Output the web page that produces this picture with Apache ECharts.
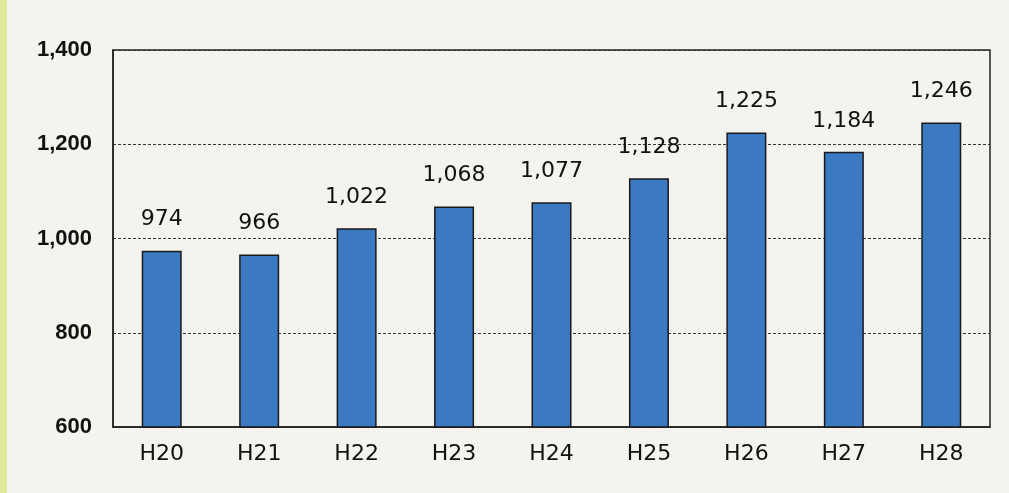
<!DOCTYPE html>
<html>
<head>
<meta charset="utf-8">
<script src="https://cdn.jsdelivr.net/npm/echarts@6/dist/echarts.min.js"></script>
<style>
  html, body { margin: 0; padding: 0; background: #f4f3ee; }
  #chart { width: 1009px; height: 493px; }
</style>
</head>
<body>
<div id="chart"></div>
<script>
var categories = ['H20', 'H21', 'H22', 'H23', 'H24', 'H25', 'H26', 'H27', 'H28'];
var values = [974, 966, 1022, 1068, 1077, 1128, 1225, 1184, 1246];

var chart = echarts.init(document.getElementById('chart'));
chart.setOption({
    backgroundColor: '#f4f3ee',
    animation: false,
    graphic: [{
        // yellow strip at the left edge of the scan
        type: 'rect',
        left: 0, top: 0,
        shape: { width: 7, height: 493 },
        style: { fill: '#dfe79a' }
    }],
    grid: { left: 113, right: 19, top: 50, bottom: 66, show: true, borderColor: '#222', borderWidth: 1.5, backgroundColor: 'transparent' },
    xAxis: {
        type: 'category',
        data: categories,
        axisLine: { lineStyle: { color: '#222', width: 1.5 } },
        axisTick: { inside: true, length: 6, lineStyle: { color: '#222', width: 1.5 } },
        axisLabel: { color: '#111', fontSize: 22, fontFamily: 'DejaVu Sans', margin: 16 }
    },
    yAxis: {
        type: 'value',
        min: 600, max: 1400, interval: 200,
        axisLine: { show: true, lineStyle: { color: '#222', width: 1.5 } },
        axisTick: { show: false },
        splitLine: { lineStyle: { color: '#333', type: [3, 2], width: 1 } },
        axisLabel: {
            color: '#111', fontSize: 22, fontWeight: 'bold', fontFamily: 'Liberation Sans', margin: 21,
            formatter: function (v) { return v.toLocaleString('en-US'); }
        }
    },
    series: [{
        type: 'bar',
        data: values,
        barWidth: 40,
        itemStyle: { color: '#3b79c2', borderColor: '#1a1a1a', borderWidth: 1.5 },
        label: {
            show: true, position: 'top', distance: 20,
            color: '#111', fontSize: 22, fontFamily: 'DejaVu Sans',
            formatter: function (p) { return p.value.toLocaleString('en-US'); }
        }
    }]
});
</script>
</body>
</html>
